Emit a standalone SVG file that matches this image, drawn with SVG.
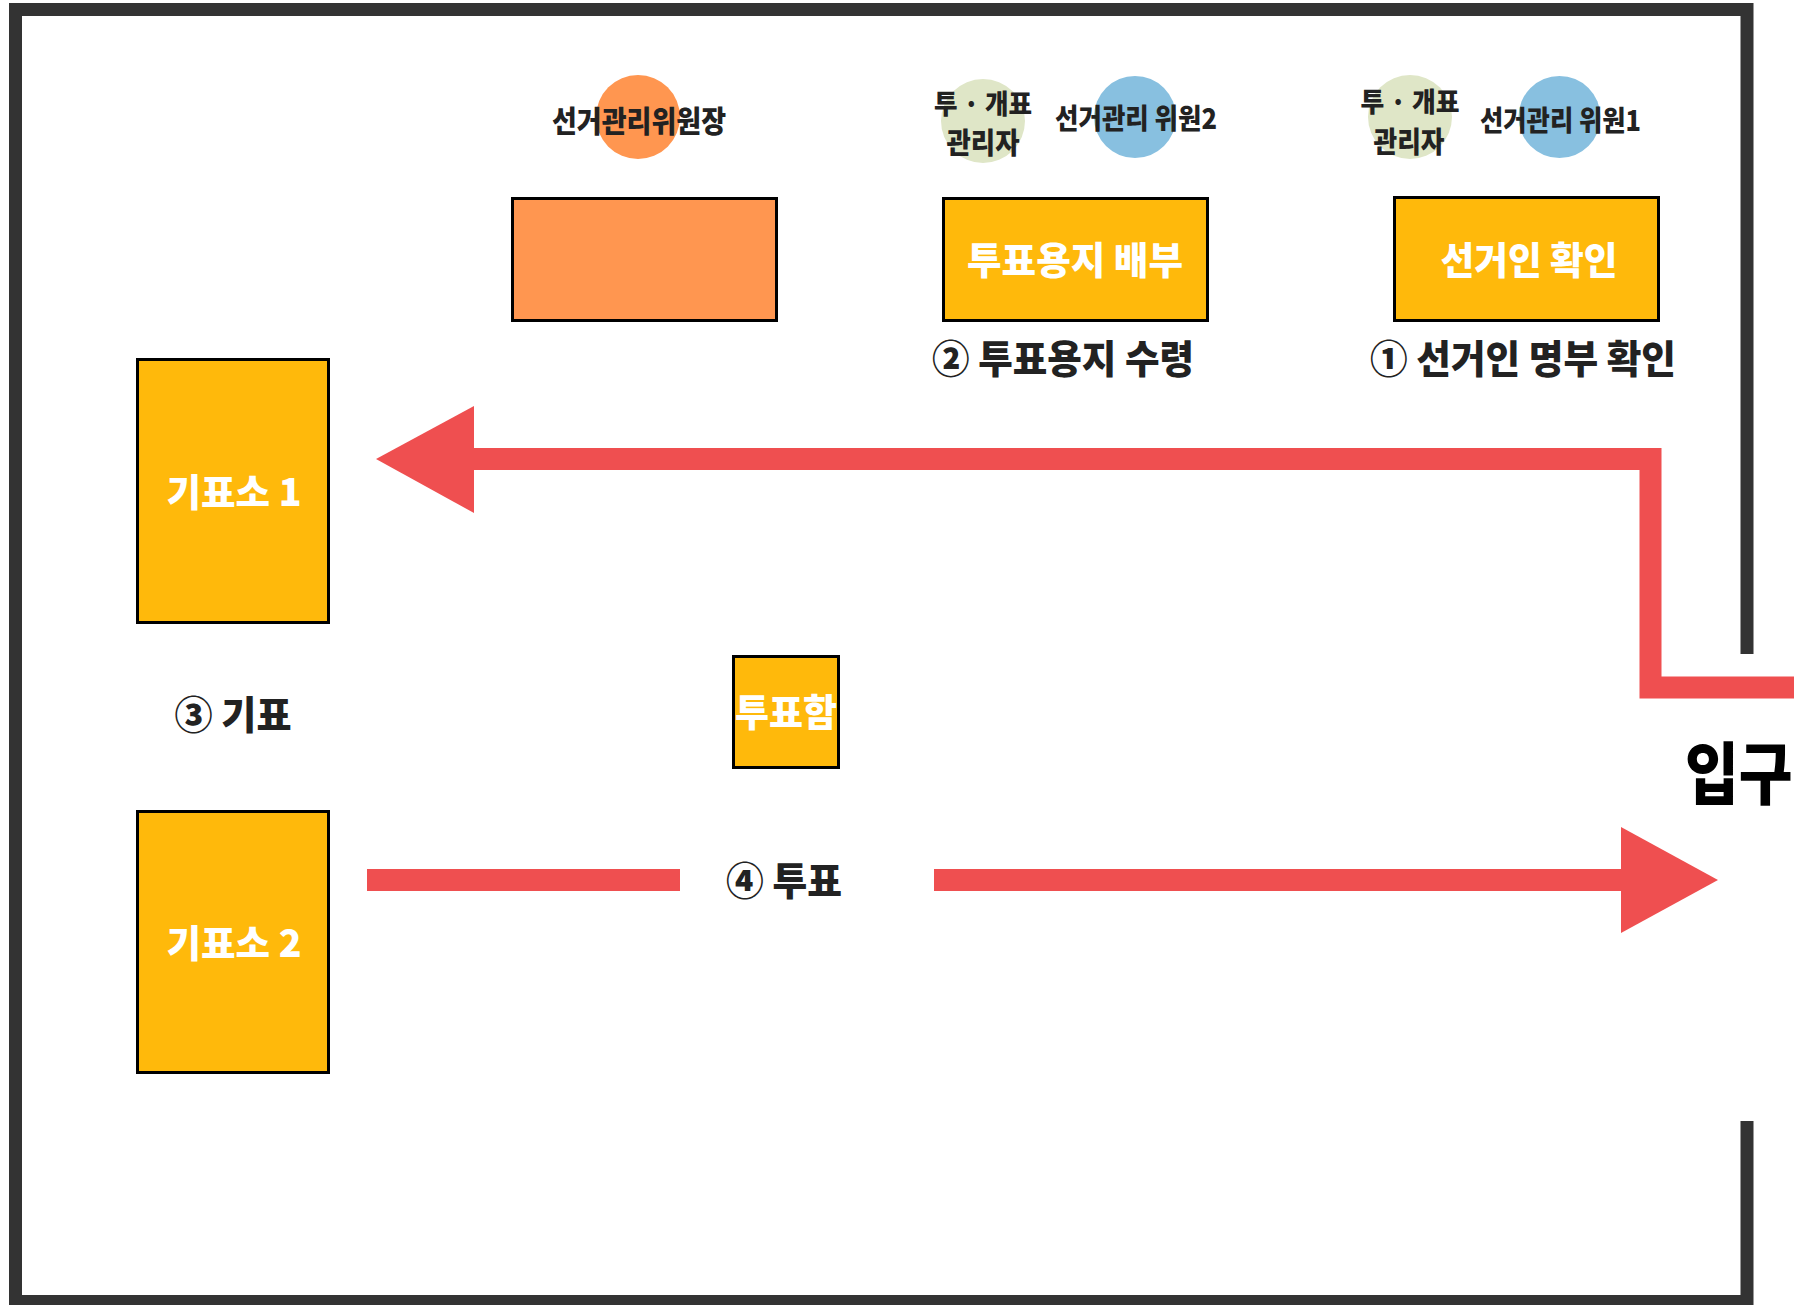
<svg xmlns="http://www.w3.org/2000/svg" width="1794" height="1305" viewBox="0 0 1794 1305">
<defs>
<style>
.wall{fill:none;stroke:#333333;stroke-width:13;stroke-linejoin:miter}
.box{fill:#FFB90B;stroke:#000;stroke-width:3}
.orange{fill:#FF9650;stroke:#000;stroke-width:3}
.t{font-family:"Noto Sans CJK KR","Noto Sans",sans-serif;font-weight:900;text-anchor:middle;dominant-baseline:central}
.dark{fill:#222222}
.white{fill:#FFFFFF}
.flow{fill:none;stroke:#EF4F50;stroke-width:22;stroke-linejoin:miter}
.head{fill:#EF4F50}
</style>
</defs>
<rect x="0" y="0" width="1794" height="1305" fill="#FFFFFF"/>
<path class="wall" d="M1747,654 V9.5 H15.5 V1301.5 H1747 V1121"/>

<g id="connectors">
<path class="flow" d="M1794,687.5 H1650.5 V459 H470"/>
<polygon class="head" points="376,459 474,406 474,513"/>
<path class="flow" d="M367,880 H680"/>
<path class="flow" d="M934,880 H1625"/>
<polygon class="head" points="1718,880 1621,827 1621,933"/>
</g>

<g id="chairman">
<circle cx="638" cy="117" r="42" fill="#FF9650"/>
<text class="t dark" x="639" y="119" font-size="30" textLength="174" lengthAdjust="spacingAndGlyphs">선거관리위원장</text>
</g>
<g id="chairman-desk">
<rect class="orange" x="512.5" y="198.5" width="264" height="122"/>
</g>

<g id="manager2">
<circle cx="983" cy="121" r="42" fill="#DFE6C7"/>
<text class="t dark" x="983" y="102.5" font-size="27" textLength="98" lengthAdjust="spacingAndGlyphs">투 · 개표</text>
<text class="t dark" x="983" y="141" font-size="29" textLength="73" lengthAdjust="spacingAndGlyphs">관리자</text>
</g>
<g id="member2">
<circle cx="1135" cy="117" r="41" fill="#88C0E0"/>
<text class="t dark" x="1136" y="117" font-size="28" textLength="162" lengthAdjust="spacingAndGlyphs">선거관리 위원2</text>
</g>
<g id="manager1">
<circle cx="1410" cy="117" r="42" fill="#DFE6C7"/>
<text class="t dark" x="1410" y="100.5" font-size="27" textLength="99" lengthAdjust="spacingAndGlyphs">투 · 개표</text>
<text class="t dark" x="1409" y="139.5" font-size="29" textLength="71" lengthAdjust="spacingAndGlyphs">관리자</text>
</g>
<g id="member1">
<circle cx="1559.5" cy="117" r="41" fill="#88C0E0"/>
<text class="t dark" x="1560.5" y="118.5" font-size="28" textLength="161" lengthAdjust="spacingAndGlyphs">선거관리 위원1</text>
</g>

<g id="ballot-dist">
<rect class="box" x="943.5" y="198.5" width="264" height="122"/>
<text class="t white" x="1075" y="257" font-size="38" textLength="216" lengthAdjust="spacingAndGlyphs">투표용지 배부</text>
</g>
<g id="voter-check">
<rect class="box" x="1394.5" y="197.5" width="264" height="123"/>
<text class="t white" x="1529" y="257" font-size="38" textLength="177" lengthAdjust="spacingAndGlyphs">선거인 확인</text>
</g>
<g id="step2">
<text class="t dark" x="1063" y="356" font-size="39" textLength="262" lengthAdjust="spacingAndGlyphs">② 투표용지 수령</text>
</g>
<g id="step1">
<text class="t dark" x="1523" y="356" font-size="39" textLength="306" lengthAdjust="spacingAndGlyphs">① 선거인 명부 확인</text>
</g>

<g id="booth1">
<rect class="box" x="137.5" y="359.5" width="191" height="263"/>
<text class="t white" x="234" y="489.5" font-size="38" textLength="135" lengthAdjust="spacingAndGlyphs">기표소 1</text>
</g>
<g id="step3">
<text class="t dark" x="233" y="712" font-size="39" textLength="117" lengthAdjust="spacingAndGlyphs">③ 기표</text>
</g>
<g id="ballot-box">
<rect class="box" x="733.5" y="656.5" width="105" height="111"/>
<text class="t white" x="786" y="709.5" font-size="38" textLength="102" lengthAdjust="spacingAndGlyphs">투표함</text>
</g>
<g id="booth2">
<rect class="box" x="137.5" y="811.5" width="191" height="261"/>
<text class="t white" x="234" y="940.5" font-size="38" textLength="135" lengthAdjust="spacingAndGlyphs">기표소 2</text>
</g>
<g id="step4">
<text class="t dark" x="784" y="877.5" font-size="39" textLength="116" lengthAdjust="spacingAndGlyphs">④ 투표</text>
</g>
<g id="entrance">
<text font-family="'Noto Sans CJK KR','Noto Sans',sans-serif" font-weight="900" font-size="68" fill="#000000" dominant-baseline="central" transform="translate(1685,769) scale(0.86,1)">입구</text>
</g>
</svg>
